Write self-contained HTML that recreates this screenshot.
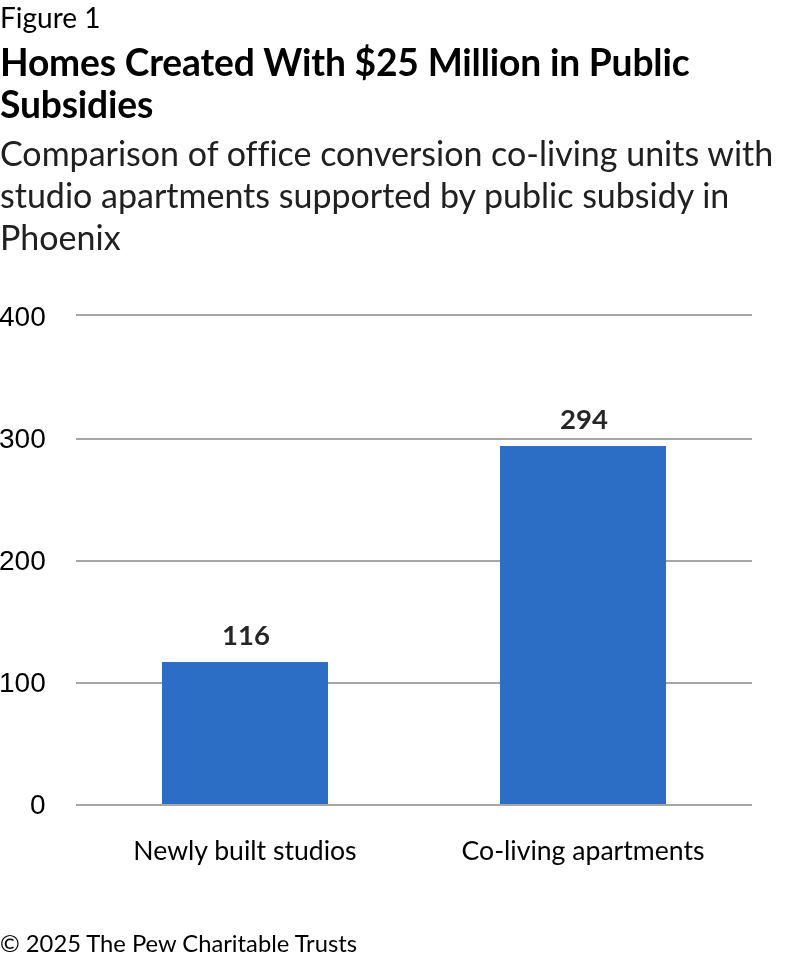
<!DOCTYPE html>
<html lang="en">
<head>
<meta charset="utf-8">
<title>Figure 1 - Homes Created With $25 Million in Public Subsidies</title>
<style>
  html, body { margin: 0; padding: 0; background: #fff; }
  body { width: 792px; height: 958px; position: relative; overflow: hidden;
         font-family: Lato, "Liberation Sans", sans-serif; color: #000; font-variant-ligatures: none; font-kerning: normal; }
  .t, .tick, .val, .cat { will-change: transform; }
  .t { position: absolute; white-space: nowrap; margin: 0; }
  #fig { left: 0; top: -0.84px; font-size: 28px; line-height: 36px; }
  #title { left: 0; top: 40.68px; font-size: 37.2px; letter-spacing: -0.17px; font-weight: 700; line-height: 42px; }
  #sub { left: 0; top: 131.84px; font-size: 34px; font-weight: 400; line-height: 42px; color: #202020; }
  .grid { position: absolute; left: 76px; width: 676px; height: 2px; background: #a6a6a6; }
  .bar { position: absolute; background: #2c6ec5; }
  .tick { position: absolute; right: 746.1px; font-family: "Liberation Sans", Arial, sans-serif; font-size: 28px; line-height: 28px; color: #000; }
  .val { position: absolute; font-weight: 700; font-size: 27.5px; line-height: 30px; color: #262626; text-align: center; width: 200px; }
  .cat { position: absolute; font-size: 26.6px; line-height: 30px; color: #000; text-align: center; width: 338px; }
  #foot { left: 0; top: 927.87px; font-size: 23.75px; line-height: 30px; color: #000; }
</style>
</head>
<body>
  <div class="t" id="fig">Figure 1</div>
  <h1 class="t" id="title">Homes Created With $25 Million in Public<br>Subsidies</h1>
  <p class="t" id="sub">Comparison of office conversion co-living units with<br>studio apartments supported by public subsidy in<br>Phoenix</p>

  <div class="tick" style="top:303.3px">400</div>
  <div class="tick" style="top:425.3px">300</div>
  <div class="tick" style="top:547.3px">200</div>
  <div class="tick" style="top:669.3px">100</div>
  <div class="tick" style="top:791.3px">0</div>

  <div class="grid" style="top:314px"></div>
  <div class="grid" style="top:438px"></div>
  <div class="grid" style="top:560px"></div>
  <div class="grid" style="top:682px"></div>

  <div class="bar" style="left:162px; top:662px; width:166px; height:142px"></div>
  <div class="bar" style="left:500px; top:446px; width:166px; height:358px"></div>

  <div class="grid" style="top:804px"></div>

  <div class="val" style="left:146.2px; top:620.36px">116</div>
  <div class="val" style="left:483.9px; top:404.36px">294</div>

  <div class="cat" style="left:75.5px; top:834.7px">Newly built studios</div>
  <div class="cat" style="left:414px; top:834.7px">Co-living apartments</div>

  <div class="t" id="foot">© 2025 The Pew Charitable Trusts</div>
</body>
</html>
